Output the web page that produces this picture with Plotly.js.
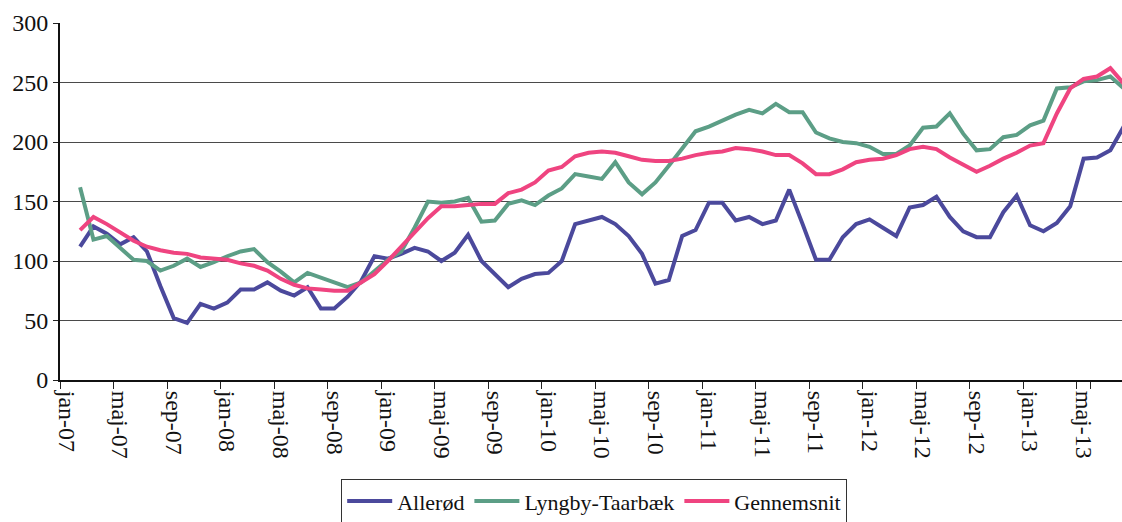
<!DOCTYPE html>
<html>
<head>
<meta charset="utf-8">
<script src="https://cdn.plot.ly/plotly-3.0.1.min.js"></script>
<style>
  html, body { margin: 0; padding: 0; background: #ffffff; }
  #chart { width: 1122px; height: 522px; }
</style>
</head>
<body>
<div id="chart"></div>
<script>
// Category labels (Danish month abbreviations), jan-07 .. aug-13
const monthNames = ["jan","feb","mar","apr","maj","jun","jul","aug","sep","okt","nov","dec"];
const years = ["07","08","09","10","11","12","13"];
const months = [];
years.forEach(function (y) {
  monthNames.forEach(function (m) {
    if (months.length < 80) months.push(m + "-" + y);
  });
});

const tickLabels = ["jan-07","maj-07","sep-07","jan-08","maj-08","sep-08","jan-09","maj-09","sep-09",
  "jan-10","maj-10","sep-10","jan-11","maj-11","sep-11","jan-12","maj-12","sep-12","jan-13","maj-13"];

// Series values, one per month from jan-07 (no value for jan-07)
const allerod = [null,112,129,123,114,120,108,79,52,48,64,60,
  65,76,76,82,75,71,78,60,60,70,83,104,
  102,106,111,108,100,107,122,100,89,78,85,89,
  90,100,131,134,137,131,121,106,81,84,121,126,
  149,149,134,137,131,134,160,131,101,101,120,131,
  135,128,121,145,147,154,137,125,120,120,141,155,
  130,125,132,146,186,187,193,213];

const lyngby = [null,162,118,121,111,101,100,92,96,102,95,99,
  104,108,110,99,91,82,90,86,82,78,82,92,
  101,108,128,150,149,150,153,133,134,148,151,147,
  155,161,173,171,169,183,166,156,166,180,194,209,
  213,218,223,227,224,232,225,225,208,203,200,199,
  196,190,190,197,212,213,224,207,193,194,204,206,
  214,218,245,246,251,252,255,245];

const gennemsnit = [null,126,137,131,124,117,112,109,107,106,103,102,
  101,98,96,92,85,80,77,76,75,75,82,89,
  100,112,125,136,146,146,147,148,148,157,160,166,
  176,179,188,191,192,191,188,185,184,184,186,189,
  191,192,195,194,192,189,189,182,173,173,177,183,
  185,186,189,194,196,194,187,181,175,180,186,191,
  197,199,224,245,253,255,262,249];

const seriesNames = ["Allerød", "Lyngby-Taarbæk", "Gennemsnit"];
const seriesColors = ["#4b499c", "#5c9e86", "#ef4480"];
const seriesValues = [allerod, lyngby, gennemsnit];

const traces = seriesValues.map(function (vals, i) {
  return {
    type: "scatter",
    mode: "lines",
    name: seriesNames[i],
    x: months,
    y: vals,
    line: { color: seriesColors[i], width: 4 },
    hoverinfo: "x+y+name"
  };
});

const font = "Liberation Serif, Times New Roman, serif";

const layout = {
  width: 1122,
  height: 522,
  margin: { l: 60, r: 0, t: 23, b: 142, pad: 0, autoexpand: false },
  paper_bgcolor: "#ffffff",
  plot_bgcolor: "#ffffff",
  showlegend: true,
  xaxis: {
    type: "category",
    categoryorder: "array",
    categoryarray: months,
    range: [-0.5, 78.87],
    automargin: false,
    tickmode: "array",
    tickvals: tickLabels,
    ticktext: tickLabels,
    tickson: "boundaries",
    tickangle: 90,
    ticks: "outside",
    ticklen: 7,
    tickwidth: 1,
    tickcolor: "#222",
    ticklabelstandoff: 4,
    showgrid: false,
    showline: true,
    linecolor: "#111",
    linewidth: 2,
    zeroline: false,
    tickfont: { family: font, size: 24, color: "#111" }
  },
  yaxis: {
    range: [0, 300],
    automargin: false,
    tickmode: "linear",
    tick0: 0,
    dtick: 50,
    ticks: "outside",
    ticklen: 5,
    tickwidth: 1,
    tickcolor: "#222",
    showgrid: true,
    gridcolor: "#4a4a4a",
    gridwidth: 1,
    showline: true,
    linecolor: "#111",
    linewidth: 2,
    zeroline: false,
    tickfont: { family: font, size: 24, color: "#111" }
  },
  legend: {
    orientation: "h",
    x: 0.503,
    xanchor: "center",
    y: -0.278,
    yanchor: "top",
    bordercolor: "#333",
    borderwidth: 1,
    bgcolor: "#ffffff",
    font: { family: font, size: 22, color: "#111" },
    itemwidth: 45,
    tracegroupgap: 0
  }
};

Plotly.newPlot("chart", traces, layout, { displayModeBar: false, staticPlot: true });
</script>
</body>
</html>
